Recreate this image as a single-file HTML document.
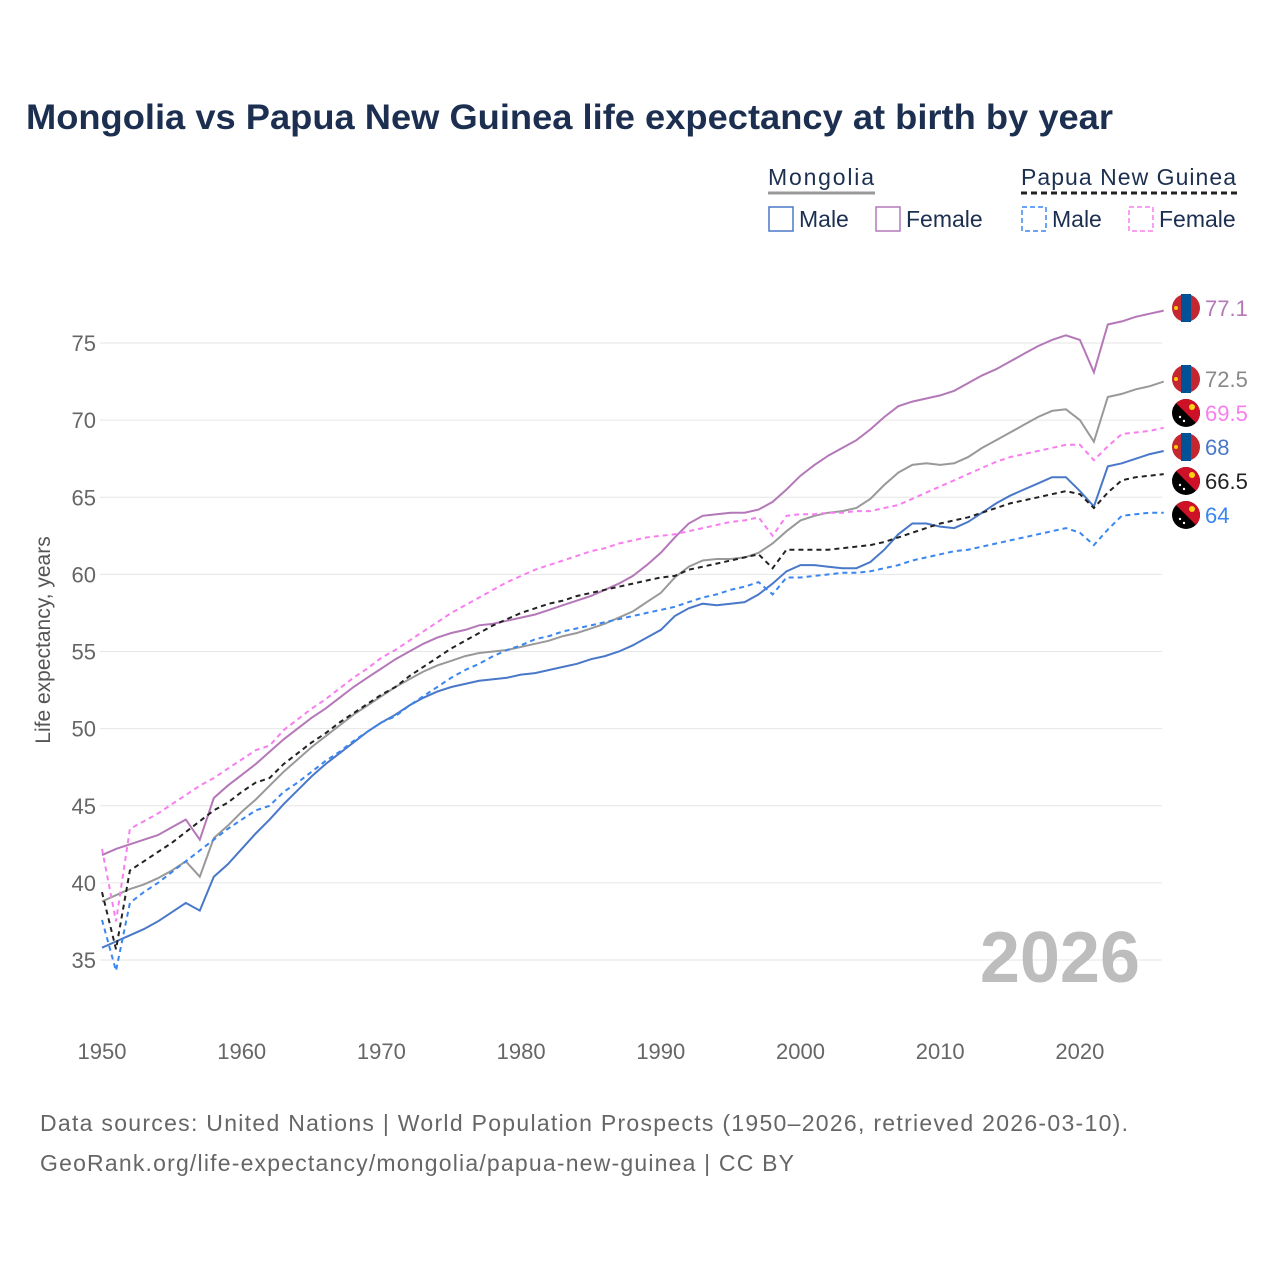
<!DOCTYPE html>
<html><head><meta charset="utf-8"><style>
body{margin:0;background:#fff;font-family:"Liberation Sans",sans-serif}
svg text{font-family:"Liberation Sans",sans-serif}
</style></head><body>
<svg width="1280" height="1280" viewBox="0 0 1280 1280" xmlns="http://www.w3.org/2000/svg">
<text x="26" y="129" font-size="35" font-weight="bold" fill="#1c2f50" textLength="1087" lengthAdjust="spacingAndGlyphs">Mongolia vs Papua New Guinea life expectancy at birth by year</text>
<g>
<text x="768" y="185" font-size="23" fill="#1c2f50" textLength="106">Mongolia</text>
<line x1="768" y1="193" x2="875" y2="193" stroke="#999" stroke-width="3"/>
<text x="1021" y="185" font-size="23" fill="#1c2f50" textLength="215">Papua New Guinea</text>
<line x1="1021" y1="193" x2="1237" y2="193" stroke="#222" stroke-width="3" stroke-dasharray="6,4"/>
<rect x="769" y="207" width="24" height="24" fill="none" stroke="#4a78c8" stroke-width="1.5"/>
<text x="799" y="227" font-size="23" fill="#1c2f50">Male</text>
<rect x="876" y="207" width="24" height="24" fill="none" stroke="#b478b8" stroke-width="1.5"/>
<text x="906" y="227" font-size="23" fill="#1c2f50">Female</text>
<rect x="1022" y="207" width="24" height="24" fill="none" stroke="#3a86f0" stroke-width="1.5" stroke-dasharray="5,3"/>
<text x="1052" y="227" font-size="23" fill="#1c2f50">Male</text>
<rect x="1129" y="207" width="24" height="24" fill="none" stroke="#f87ef0" stroke-width="1.5" stroke-dasharray="5,3"/>
<text x="1159" y="227" font-size="23" fill="#1c2f50">Female</text>
</g>
<g id="grid"></g>
<text x="1140" y="982" font-size="72" font-weight="bold" fill="#bdbdbd" text-anchor="end">2026</text>
<text transform="translate(50,640) rotate(-90)" font-size="21" fill="#555" text-anchor="middle">Life expectancy, years</text>
<g id="series"></g>
<g id="ends"></g>
<text x="40" y="1131" font-size="23" fill="#666" textLength="1088">Data sources: United Nations | World Population Prospects (1950–2026, retrieved 2026-03-10).</text>
<text x="40" y="1171" font-size="23" fill="#666" textLength="754">GeoRank.org/life-expectancy/mongolia/papua-new-guinea | CC BY</text>
</svg>
<script>
const startYear=1950;
const yTicks=[35,40,45,50,55,60,65,70,75];
const xTicks=[1950,1960,1970,1980,1990,2000,2010,2020];
const mnMale=[35.8,36.2,36.6,37.0,37.5,38.1,38.7,38.2,40.4,41.2,42.2,43.2,44.1,45.1,46.0,46.9,47.7,48.4,49.1,49.8,50.4,50.9,51.5,52.0,52.4,52.7,52.9,53.1,53.2,53.3,53.5,53.6,53.8,54.0,54.2,54.5,54.7,55.0,55.4,55.9,56.4,57.3,57.8,58.1,58.0,58.1,58.2,58.7,59.4,60.2,60.6,60.6,60.5,60.4,60.4,60.8,61.6,62.6,63.3,63.3,63.1,63.0,63.4,64.0,64.6,65.1,65.5,65.9,66.3,66.3,65.4,64.4,67.0,67.2,67.5,67.8,68.0];
const mnFemale=[41.8,42.2,42.5,42.8,43.1,43.6,44.1,42.8,45.5,46.3,47.0,47.7,48.5,49.3,50.0,50.7,51.3,52.0,52.7,53.3,53.9,54.5,55.0,55.5,55.9,56.2,56.4,56.7,56.8,57.0,57.2,57.4,57.7,58.0,58.3,58.6,59.0,59.4,59.9,60.6,61.4,62.4,63.3,63.8,63.9,64.0,64.0,64.2,64.7,65.5,66.4,67.1,67.7,68.2,68.7,69.4,70.2,70.9,71.2,71.4,71.6,71.9,72.4,72.9,73.3,73.8,74.3,74.8,75.2,75.5,75.2,73.1,76.2,76.4,76.7,76.9,77.1];
const mnTotal=[38.8,39.2,39.6,39.9,40.3,40.8,41.4,40.4,42.9,43.7,44.6,45.4,46.3,47.2,48.0,48.8,49.5,50.2,50.9,51.5,52.1,52.7,53.2,53.7,54.1,54.4,54.7,54.9,55.0,55.1,55.3,55.5,55.7,56.0,56.2,56.5,56.8,57.2,57.6,58.2,58.8,59.8,60.5,60.9,61.0,61.0,61.1,61.4,62.0,62.8,63.5,63.8,64.0,64.1,64.3,64.9,65.8,66.6,67.1,67.2,67.1,67.2,67.6,68.2,68.7,69.2,69.7,70.2,70.6,70.7,70.0,68.6,71.5,71.7,72.0,72.2,72.5];
const pgMale=[37.6,34.3,38.7,39.4,40.0,40.7,41.4,42.1,42.8,43.5,44.1,44.7,45.0,45.9,46.5,47.2,47.9,48.5,49.2,49.8,50.4,50.8,51.5,52.1,52.7,53.3,53.8,54.2,54.7,55.1,55.4,55.8,56.0,56.3,56.5,56.7,56.9,57.1,57.3,57.5,57.7,57.9,58.2,58.5,58.7,59.0,59.2,59.5,58.7,59.8,59.8,59.9,60.0,60.1,60.1,60.2,60.4,60.6,60.9,61.1,61.3,61.5,61.6,61.8,62.0,62.2,62.4,62.6,62.8,63.0,62.7,61.9,62.9,63.8,63.9,64.0,64.0];
const pgFemale=[42.2,37.5,43.5,44.0,44.5,45.1,45.7,46.3,46.8,47.4,48.0,48.6,48.9,49.9,50.6,51.3,51.9,52.6,53.3,53.9,54.6,55.1,55.7,56.3,56.9,57.5,58.0,58.5,59.0,59.5,59.9,60.3,60.6,60.9,61.2,61.5,61.7,62.0,62.2,62.4,62.5,62.6,62.8,63.0,63.2,63.4,63.5,63.7,62.5,63.8,63.9,63.9,64.0,64.0,64.1,64.1,64.3,64.5,64.9,65.3,65.7,66.1,66.5,66.9,67.3,67.6,67.8,68.0,68.2,68.4,68.4,67.4,68.3,69.1,69.2,69.3,69.5];
const pgTotal=[39.4,35.7,40.8,41.4,42.0,42.6,43.3,44.0,44.7,45.2,45.9,46.5,46.8,47.7,48.4,49.1,49.7,50.4,51.0,51.6,52.2,52.7,53.4,54.0,54.6,55.2,55.7,56.2,56.7,57.1,57.5,57.8,58.1,58.3,58.6,58.8,59.0,59.2,59.4,59.6,59.8,59.9,60.3,60.5,60.7,60.9,61.1,61.3,60.4,61.6,61.6,61.6,61.6,61.7,61.8,61.9,62.1,62.4,62.7,63.0,63.3,63.5,63.7,64.0,64.3,64.6,64.8,65.0,65.2,65.4,65.2,64.3,65.3,66.1,66.3,66.4,66.5];
const endLabels=["77.1","72.5","69.5","68","66.5","64"];
const NS="http://www.w3.org/2000/svg";
const xS=y=>102+(y-1950)*13.97;
const yS=v=>343+(75-v)*15.425;
const grid=document.getElementById('grid');
yTicks.forEach(t=>{
 const l=document.createElementNS(NS,'line');
 l.setAttribute('x1',100);l.setAttribute('x2',1162);l.setAttribute('y1',yS(t));l.setAttribute('y2',yS(t));
 l.setAttribute('stroke','#e6e6e6');l.setAttribute('stroke-width',1);
 
 
 grid.appendChild(l);
 const tx=document.createElementNS(NS,'text');
 tx.setAttribute('x',96);tx.setAttribute('y',yS(t)+8);tx.setAttribute('text-anchor','end');
 tx.setAttribute('font-size',22);tx.setAttribute('fill','#666');tx.textContent=t;
 
 
 grid.appendChild(tx);
});
xTicks.forEach(t=>{
 const tx=document.createElementNS(NS,'text');
 tx.setAttribute('x',xS(t));tx.setAttribute('y',1059);tx.setAttribute('text-anchor','middle');
 tx.setAttribute('font-size',22);tx.setAttribute('fill','#666');tx.textContent=t;
 
 
 grid.appendChild(tx);
});
const series=[
 [mnTotal,'#999',null,'mongolia-total'],
 [mnMale,'#4a78c8',null,'mongolia-male'],
 [mnFemale,'#b478b8',null,'mongolia-female'],
 [pgTotal,'#222','5,4','png-total'],
 [pgMale,'#3a86f0','5,4','png-male'],
 [pgFemale,'#f87ef0','5,4','png-female']];
const sg=document.getElementById('series');
series.forEach(s=>{
 const p=document.createElementNS(NS,'path');
 p.setAttribute('d',s[0].map((v,i)=>(i?'L':'M')+xS(startYear+i).toFixed(1)+','+yS(v).toFixed(1)).join(''));
 p.setAttribute('fill','none');p.setAttribute('stroke',s[1]);p.setAttribute('stroke-width',2);
 if(s[2])p.setAttribute('stroke-dasharray',s[2]);
 
 
 sg.appendChild(p);
});
const ends=[[mnFemale,'#b478b8','mn'],[mnTotal,'#888','mn'],[pgFemale,'#f87ef0','pg'],[mnMale,'#4a78c8','mn'],[pgTotal,'#222','pg'],[pgMale,'#3a86f0','pg']];
const eg=document.getElementById('ends');
const placed=[316,387,421,455,489,523];
ends.forEach((e,i)=>{
 const cy=placed[i]-8;
 const g=document.createElementNS(NS,'g');
 
 
 if(e[2]==='mn'){
  g.innerHTML=`<circle cx="1186" cy="${cy}" r="14" fill="#c4272f"/><rect x="1181" y="${cy-14}" width="10" height="28" fill="#015197"/><circle cx="1176" cy="${cy}" r="2" fill="#f9cf02"/>`;
 } else {
  g.innerHTML=`<clipPath id="c${i}"><circle cx="1186" cy="${cy}" r="14"/></clipPath><g clip-path="url(#c${i})"><rect x="1172" y="${cy-14}" width="28" height="28" fill="#000"/><polygon points="${1172},${cy-14} ${1200},${cy-14} ${1200},${cy+14}" fill="#ce1126"/><circle cx="1192" cy="${cy-6}" r="3" fill="#fcd116"/><circle cx="1180" cy="${cy+4}" r="1.2" fill="#fff"/><circle cx="1184" cy="${cy+8}" r="1.2" fill="#fff"/></g>`;
 }
 eg.appendChild(g);
 const t=document.createElementNS(NS,'text');
 t.setAttribute('x',1205);t.setAttribute('y',placed[i]);t.setAttribute('font-size',22);t.setAttribute('fill',e[1]);
 t.textContent=endLabels[i];
 
 
 eg.appendChild(t);
});
</script>
</body></html>
